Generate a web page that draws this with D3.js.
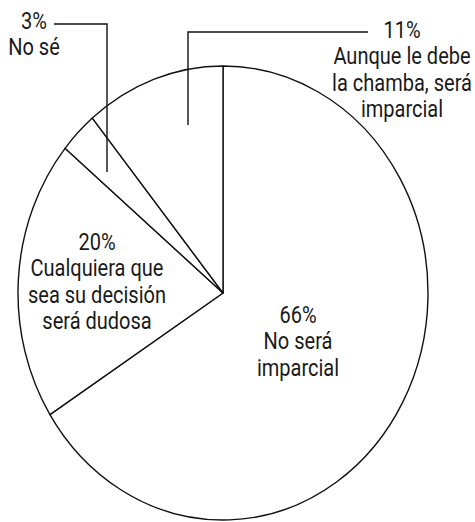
<!DOCTYPE html>
<html>
<head>
<meta charset="utf-8">
<script src="https://cdn.jsdelivr.net/npm/d3@7"></script>
<style>
  html, body { margin: 0; padding: 0; background: #fff; }
  text { font-family: "Roboto", "Liberation Sans", sans-serif; font-weight: 400; fill: #1a1a1a; }
</style>
</head>
<body>
<svg id="chart" width="475" height="522"></svg>
<script>
const categories = ["No será imparcial", "Cualquiera que sea su decisión será dudosa", "No sé", "Aunque le debe la chamba, será imparcial"];
const values = [66, 20, 3, 11];
const percentLabels = ["66%", "20%", "3%", "11%"];
const labelLines = [
  ["No será", "imparcial"],
  ["Cualquiera que", "sea su decisión", "será dudosa"],
  ["No sé"],
  ["Aunque le debe", "la chamba, será", "imparcial"]
];

const W = 475, H = 522;
const cx = 223, cy = 293, rx = 205, ry = 227;
const svg = d3.select("#chart");

const pie = d3.pie().sort(null).value(d => d).startAngle(0).endAngle(2 * Math.PI);
const arcs = pie(values);
const arc = d3.arc().innerRadius(0).outerRadius(rx);

const g = svg.append("g").attr("transform", `translate(${cx},${cy}) scale(1,${ry / rx})`);
g.selectAll("path").data(arcs).join("path")
  .attr("d", arc)
  .attr("fill", "#fff")
  .attr("stroke", "#111")
  .attr("stroke-width", 1.4)
  .attr("vector-effect", "non-scaling-stroke")
  .attr("stroke-linejoin", "round");

// label layout (positions only)
const layout = [
  { x: 298, y: 323 },
  { x: 97, y: 250 },
  { x: 34, y: 29, leader: [[54, 24], [107, 24], [107, 172]] },
  { x: 402, y: 38, leader: [[368, 32], [188, 32], [188, 125]] }
];
const lineH = 26.5;
const fontSize = 23;

// condensed look: measure a reference line, compress horizontally
const probe = svg.append("text").attr("font-size", fontSize).text("Cualquiera que");
const sx = 133 / probe.node().getComputedTextLength();
probe.remove();

arcs.forEach((a, i) => {
  const L = layout[i];
  if (L.leader) {
    svg.append("path")
      .attr("d", d3.line()(L.leader))
      .attr("fill", "none")
      .attr("stroke", "#111")
      .attr("stroke-width", 1.4);
  }
  const tg = svg.append("g").attr("transform", `translate(${L.x},${L.y}) scale(${sx},1)`);
  const t = tg.append("text")
    .attr("text-anchor", "middle")
    .attr("font-size", fontSize);
  t.append("tspan").attr("x", 0).attr("y", 0).text(percentLabels[i]);
  labelLines[i].forEach((ln, j) => {
    t.append("tspan").attr("x", 0).attr("y", lineH * (j + 1)).text(ln);
  });
});
</script>
</body>
</html>
